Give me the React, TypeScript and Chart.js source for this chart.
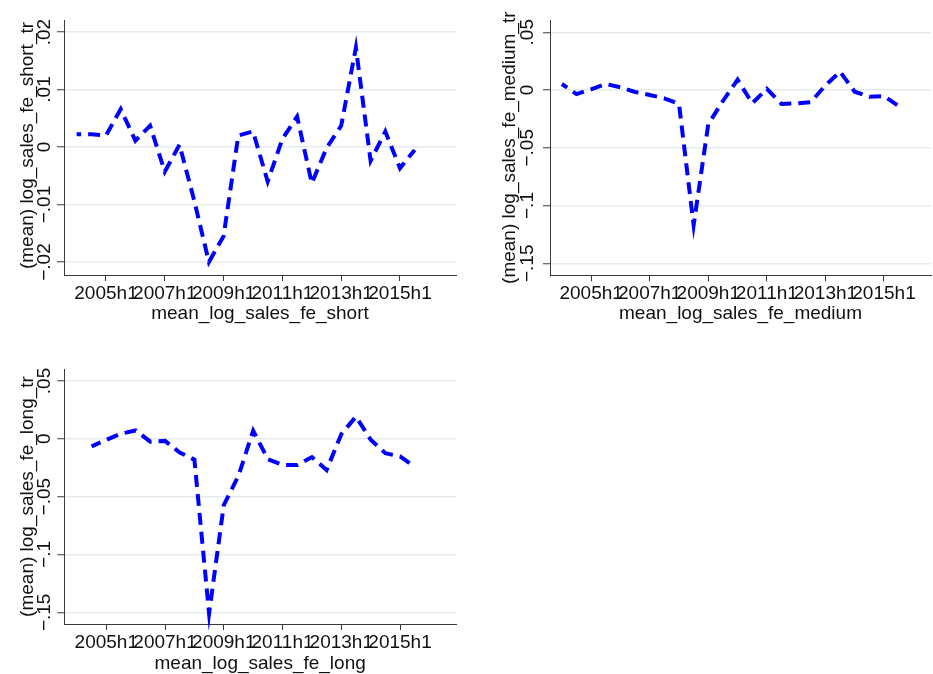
import React, { useEffect, useRef } from 'react';
import { Chart, registerables } from 'chart.js';

Chart.register(...registerables);

// ---------- data ----------
const periods = [
  '2004h1', '2004h2', '2005h1', '2005h2', '2006h1', '2006h2', '2007h1', '2007h2',
  '2008h1', '2008h2', '2009h1', '2009h2', '2010h1', '2010h2', '2011h1', '2011h2',
  '2012h1', '2012h2', '2013h1', '2013h2', '2014h1', '2014h2', '2015h1', '2015h2',
];
const xTickPeriods = ['2005h1', '2007h1', '2009h1', '2011h1', '2013h1', '2015h1'];

const shortValues = [
  0.0022, 0.0022, 0.0020, 0.0066, 0.0011, 0.0037, -0.0043, 0.0004,
  -0.0093, -0.0200, -0.0155, 0.0020, 0.0027, -0.0060, 0.0014, 0.0053,
  -0.0063, -0.0002, 0.0037, 0.0173, -0.0024, 0.0027, -0.0037, -0.0005,
];
const mediumValues = [
  0.0052, -0.0035, 0.0006, 0.0052, 0.0023, -0.0017, -0.0043, -0.0072,
  -0.0121, -0.117, -0.0295, -0.0095, 0.0090, -0.0115, 0.0010, -0.0121,
  -0.0116, -0.0105, 0.0040, 0.0159, -0.0015, -0.0058, -0.0052, -0.0139,
];
const longValues = [
  null, -0.0065, -0.0010, 0.0045, 0.0072, -0.0025, -0.0018, -0.0118,
  -0.0180, -0.151, -0.0573, -0.0320, 0.0070, -0.0176, -0.0226, -0.0226,
  -0.0158, -0.0270, 0.0040, 0.0192, -0.0007, -0.0125, -0.0152, -0.0241,
];

const shortYTicks = [-0.02, -0.01, 0, 0.01, 0.02];
const shortYTickLabels = ['\u2212.02', '\u2212.01', '0', '.01', '.02'];
const wideYTicks = [-0.15, -0.1, -0.05, 0, 0.05];
const wideYTickLabels = ['\u2212.15', '\u2212.1', '\u2212.05', '0', '.05'];

// ---------- style ----------
const FONT = '"Liberation Sans", Arial, Helvetica, sans-serif';
const TEXT = '#111111';
const AXIS = '#3a3a3a';
const GRID = '#e4ecef';
const LINE = '#0000ff';
const DASH = 12;
const GAP = 7;

type PanelProps = {
  values: (number | null)[];
  spikes: string[];
  yTicks: number[];
  yTickLabels: string[];
  yMin: number;
  yMax: number;
  xMin: number;
  xMax: number;
  yTitle: string;
  xTitle: string;
  box: { left: number; top: number; width: number; height: number };
  area: { left: number; right: number; top: number; bottom: number };
  yTickX: number;
  yTitleX: number;
  yTitleCY: number;
  xTickPad: number;
  xTitlePad: number;
};

function Panel(p: PanelProps) {
  const ref = useRef<HTMLCanvasElement | null>(null);
  useEffect(() => {
    if (!ref.current) return;
    const { box, area } = p;
    const data = p.values
      .map((v, i) => (v === null ? null : { x: i, y: v }))
      .filter((d) => d !== null) as { x: number; y: number }[];

    const yTextPlugin = {
      id: 'stataYText',
      afterDraw(chart: any) {
        const ctx = chart.ctx as CanvasRenderingContext2D;
        const ys = chart.scales.y;
        ctx.save();
        ctx.fillStyle = TEXT;
        ctx.font = `19px ${FONT}`;
        ctx.textAlign = 'center';
        ctx.textBaseline = 'alphabetic';
        p.yTicks.forEach((v, i) => {
          const py = ys.getPixelForValue(v);
          ctx.save();
          ctx.translate(p.yTickX, py);
          ctx.rotate(-Math.PI / 2);
          ctx.fillText(p.yTickLabels[i], 0, 0);
          ctx.restore();
        });
        ctx.save();
        ctx.translate(p.yTitleX, p.yTitleCY);
        ctx.rotate(-Math.PI / 2);
        ctx.fillText(p.yTitle, 0, 0);
        ctx.restore();
        ctx.restore();
      },
    };

    const chart = new Chart(ref.current, {
      type: 'line',
      data: {
        datasets: [
          {
            data,
            borderColor: LINE,
            borderWidth: 4,
            borderDash: [DASH, GAP],
            borderDashOffset: 0,
            borderCapStyle: 'butt',
            borderJoinStyle: 'miter',
            pointRadius: 0,
            tension: 0,
            fill: false,
            clip: false as any,
          },
        ],
      },
      options: {
        responsive: false,
        maintainAspectRatio: false,
        devicePixelRatio: 1,
        animation: false,
        parsing: false as any,
        normalized: true,
        layout: {
          padding: { left: 0, top: area.top, right: box.width - area.right, bottom: 0 },
        },
        plugins: { legend: { display: false }, tooltip: { enabled: false } },
        scales: {
          x: {
            type: 'linear',
            min: p.xMin,
            max: p.xMax,
            afterBuildTicks: (s: any) => {
              s.ticks = xTickPeriods.map((t) => ({ value: periods.indexOf(t) }));
            },
            afterFit: (s: any) => {
              s.height = box.height - area.bottom;
            },
            grid: {
              drawOnChartArea: false,
              color: AXIS,
              tickColor: AXIS,
              tickLength: 6,
              lineWidth: 1,
            },
            border: { color: AXIS, width: 1 },
            ticks: {
              autoSkip: false,
              minRotation: 0,
              maxRotation: 0,
              padding: p.xTickPad,
              color: TEXT,
              font: { family: FONT, size: 19 },
              callback: (v: any) => periods[Math.round(Number(v))] ?? '',
            },
            title: {
              display: true,
              text: p.xTitle,
              color: TEXT,
              font: { family: FONT, size: 19, lineHeight: 1 },
              padding: { top: 0, bottom: p.xTitlePad },
            },
          },
          y: {
            type: 'linear',
            min: p.yMin,
            max: p.yMax,
            afterBuildTicks: (s: any) => {
              s.ticks = p.yTicks.map((v) => ({ value: v }));
            },
            afterFit: (s: any) => {
              s.width = area.left;
            },
            grid: {
              color: GRID,
              lineWidth: 1.5,
              tickColor: AXIS,
              tickWidth: 1,
              tickLength: 7,
            },
            border: { color: AXIS, width: 1 },
            ticks: { display: false },
          },
        },
      },
      plugins: [yTextPlugin],
    } as any);

    // Align the dash phase so that the sharp turning points fall inside a dash
    // (so the miter join is drawn, as in the reference).
    const meta = chart.getDatasetMeta(0);
    const pts = meta.data.map((e: any) => ({ x: e.x, y: e.y }));
    const cum: number[] = [0];
    for (let i = 1; i < pts.length; i++) {
      cum.push(cum[i - 1] + Math.hypot(pts[i].x - pts[i - 1].x, pts[i].y - pts[i - 1].y));
    }
    const spikeIdx = p.spikes
      .map((s) => data.findIndex((d) => d.x === periods.indexOf(s)))
      .filter((i) => i >= 0);
    const period = DASH + GAP;
    let best = 0;
    let bestCost = Infinity;
    for (let d = 0; d < period; d += 0.25) {
      let cost = 0;
      spikeIdx.forEach((i) => {
        const ph = (((cum[i] + d) % period) + period) % period;
        cost += Math.abs(ph - DASH / 2);
      });
      if (cost < bestCost) {
        bestCost = cost;
        best = d;
      }
    }
    (chart.data.datasets[0] as any).borderDashOffset = best;
    chart.update('none');

    return () => chart.destroy();
  }, []);

  const { box } = p;
  return (
    <canvas
      ref={ref}
      width={box.width}
      height={box.height}
      style={{ position: 'absolute', left: box.left, top: box.top, width: box.width, height: box.height }}
    />
  );
}

export default function App() {
  return (
    <div
      style={{
        position: 'absolute',
        left: 0,
        top: 0,
        width: 933,
        height: 674,
        overflow: 'hidden',
        background: '#ffffff',
      }}
    >
      <Panel
        values={shortValues}
        spikes={['2008h2', '2013h2']}
        yTicks={shortYTicks}
        yTickLabels={shortYTickLabels}
        yMin={-0.02226}
        yMax={0.02209}
        xMin={-0.857}
        xMax={25.81}
        yTitle="(mean) log_sales_fe_short_tr"
        xTitle="mean_log_sales_fe_short"
        box={{ left: 0, top: 0, width: 466, height: 340 }}
        area={{ left: 64, right: 456, top: 20, bottom: 275 }}
        yTickX={50}
        yTitleX={33}
        yTitleCY={145.5}
        xTickPad={1}
        xTitlePad={16.4}
      />
      <Panel
        values={mediumValues}
        spikes={['2008h2']}
        yTicks={wideYTicks}
        yTickLabels={wideYTickLabels}
        yMin={-0.1604}
        yMax={0.06}
        xMin={-0.81}
        xMax={25.21}
        yTitle="(mean) log_sales_fe_medium_tr"
        xTitle="mean_log_sales_fe_medium"
        box={{ left: 466, top: 0, width: 467, height: 340 }}
        area={{ left: 84, right: 467, top: 20.7, bottom: 275.3 }}
        yTickX={67.3}
        yTitleX={49}
        yTitleCY={147.7}
        xTickPad={1}
        xTitlePad={17}
      />
      <Panel
        values={longValues}
        spikes={['2008h2']}
        yTicks={wideYTicks}
        yTickLabels={wideYTickLabels}
        yMin={-0.1601}
        yMax={0.0601}
        xMin={-0.857}
        xMax={25.81}
        yTitle="(mean) log_sales_fe_long_tr"
        xTitle="mean_log_sales_fe_long"
        box={{ left: 0, top: 340, width: 466, height: 334 }}
        area={{ left: 64.3, right: 456, top: 29.3, bottom: 284 }}
        yTickX={49.5}
        yTitleX={33}
        yTitleCY={156.5}
        xTickPad={1}
        xTitlePad={1.1}
      />
    </div>
  );
}
